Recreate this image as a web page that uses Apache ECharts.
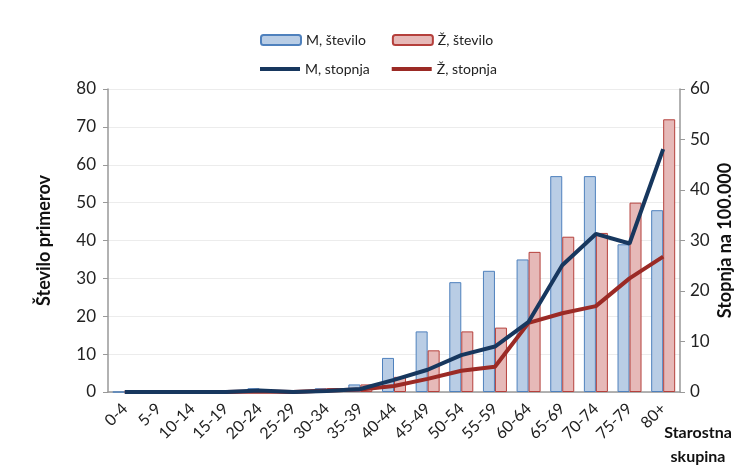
<!DOCTYPE html>
<html>
<head>
<meta charset="utf-8">
<script src="https://cdn.jsdelivr.net/npm/echarts@6/dist/echarts.min.js"></script>
<style>
html,body{margin:0;padding:0;background:#fff;}
#chart{width:745px;height:468px;}
</style>
</head>
<body>
<div id="chart"></div>
<script>
// Age groups
const ageGroups = ['0-4','5-9','10-14','15-19','20-24','25-29','30-34','35-39','40-44','45-49','50-54','55-59','60-64','65-69','70-74','75-79','80+'];
// Number of cases
const maleCount   = [0,0,0,0,1,0,1,2,9,16,29,32,35,57,57,39,48];
const femaleCount = [0,0,0,0,0,0,1,2,4,11,16,17,37,41,42,50,72];
// Rate per 100,000
const maleRate    = [0,0,0,0,0.3,0,0.2,0.6,2.4,4.4,7.3,9.0,13.9,25.1,31.3,29.4,48.1];
const femaleRate  = [0,0,0,0,0.1,0,0.3,0.5,1.2,2.6,4.2,5.0,13.7,15.6,17.0,22.5,26.8];

const FONT = 'Lato, "Open Sans", sans-serif';
const chart = echarts.init(document.getElementById('chart'));

chart.setOption({
  animation: false,
  backgroundColor: '#fff',
  textStyle: { fontFamily: FONT },
  legend: [
    {
      data: ['M, število', 'Ž, število'],
      left: 255, top: 28,
      itemWidth: 40, itemHeight: 10, itemGap: 26,
      textStyle: { fontSize: 14, color: '#222', fontFamily: FONT }
    },
    {
      data: [
        { name: 'M, stopnja', icon: 'rect' },
        { name: 'Ž, stopnja', icon: 'rect' }
      ],
      left: 255, top: 57,
      itemWidth: 40, itemHeight: 4, itemGap: 22,
      textStyle: { fontSize: 14, color: '#222', fontFamily: FONT }
    }
  ],
  // x-axis title, centred under the right end of the axis
  graphic: [{
    type: 'text',
    x: 698, y: 421,
    style: {
      text: 'Starostna\nskupina',
      fill: '#111',
      font: 'bold 16px ' + FONT,
      align: 'center',
      lineHeight: 24
    }
  }],
  grid: { left: 108, right: 65, top: 89, bottom: 76, outerBoundsMode: 'none', containLabel: false },
  xAxis: {
    type: 'category',
    data: ageGroups,
    axisLine: { lineStyle: { color: '#999', width: 1.5 } },
    axisTick: { show: false },
    axisLabel: { rotate: 45, fontSize: 16, color: '#222', margin: 14, interval: 0 }
  },
  yAxis: [
    {
      type: 'value', min: 0, max: 80, interval: 10,
      name: 'Število primerov',
      nameLocation: 'middle', nameGap: 55, nameRotate: 90,
      nameTextStyle: { fontSize: 18, fontWeight: 'bold', color: '#111' },
      axisLine: { show: true, lineStyle: { color: '#999', width: 1.5 } },
      axisTick: { show: true, length: 5, lineStyle: { color: '#999' } },
      axisLabel: { fontSize: 17, color: '#222', margin: 12 },
      splitLine: { lineStyle: { color: '#ececec', width: 1 } }
    },
    {
      type: 'value', min: 0, max: 60, interval: 10,
      name: 'Stopnja na 100.000',
      nameLocation: 'middle', nameGap: 36, nameRotate: 90,
      nameMoveOverlap: false,
      nameTextStyle: { fontSize: 18, fontWeight: 'bold', color: '#111' },
      axisLine: { show: true, lineStyle: { color: '#999', width: 1.5 } },
      axisTick: { show: true, length: 5, lineStyle: { color: '#999' } },
      axisLabel: { fontSize: 17, color: '#222', margin: 10 },
      splitLine: { show: false }
    }
  ],
  series: [
    {
      name: 'M, število', type: 'bar', yAxisIndex: 0, data: maleCount,
      barWidth: 12, barGap: '0%',
      itemStyle: { color: '#b9cde5', borderColor: '#4f81bd', borderWidth: 1 }
    },
    {
      name: 'Ž, število', type: 'bar', yAxisIndex: 0, data: femaleCount,
      barWidth: 12, barGap: '0%',
      itemStyle: { color: '#e6b9b8', borderColor: '#b5403c', borderWidth: 1 }
    },
    {
      name: 'M, stopnja', type: 'line', yAxisIndex: 1, data: maleRate,
      symbol: 'none', z: 5,
      lineStyle: { color: '#17375e', width: 4 },
      itemStyle: { color: '#17375e' }
    },
    {
      name: 'Ž, stopnja', type: 'line', yAxisIndex: 1, data: femaleRate,
      symbol: 'none', z: 4,
      lineStyle: { color: '#9b2a25', width: 4 },
      itemStyle: { color: '#9b2a25' }
    }
  ]
});
</script>
</body>
</html>
